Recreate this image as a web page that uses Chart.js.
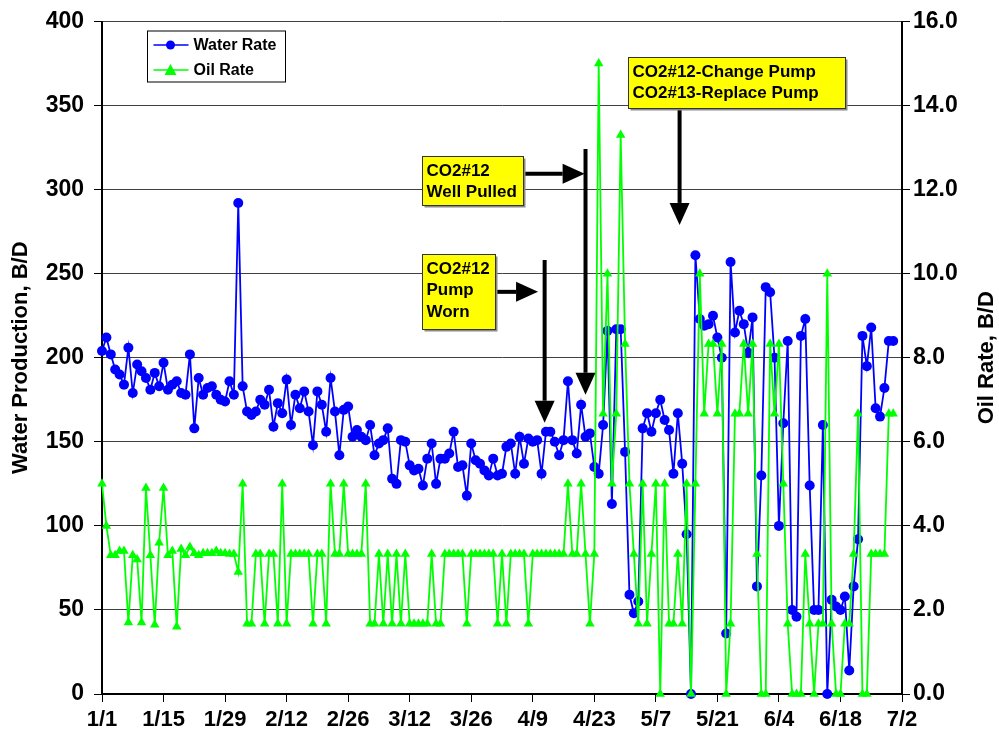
<!DOCTYPE html>
<html>
<head>
<meta charset="UTF-8">
<title>Water and Oil Rate</title>
<script src="https://cdn.jsdelivr.net/npm/chart.js@4.4.1/dist/chart.umd.min.js"></script>
<style>
  html, body { margin: 0; padding: 0; background: #fff; }
  #wrap { width: 999px; height: 740px; }
</style>
</head>
<body>
<div id="wrap"><canvas id="rateChart" width="999" height="740"></canvas></div>
<script>
// x ticks every 14 days starting 1/1 (day 0)
var tickLabels = ['1/1', '1/15', '1/29', '2/12', '2/26', '3/12', '3/26', '4/9', '4/23', '5/7', '5/21', '6/4', '6/18', '7/2'];

// daily values, day 0 = 1/1
var waterRate = [
  204, 212, 202, 193, 190, 184, 206, 179, 196, 192, 188, 181, 191, 183, 197, 181, 184, 186, 179, 178,
  202, 158, 188, 178, 182, 183, 178, 175, 174, 186, 178, 292, 183, 168, 166, 168, 175, 172, 181, 159,
  173, 167, 187, 160, 178, 170, 180, 168, 148, 180, 172, 156, 188, 168, 142, 169, 171, 153, 157, 153,
  151, 160, 142, 149, 151, 158, 128, 125, 151, 150, 136, 133, 134, 124, 140, 149, 125, 140, 140, 143,
  156, 135, 136, 118, 149, 139, 137, 133, 130, 140, 130, 131, 147, 149, 131, 153, 137, 152, 150, 151,
  131, 156, 156, 150, 142, 151, 186, 151, 143, 172, 153, 155, 135, 131, 160, 216, 113, 217, 217, 144,
  59, 48, 55, 158, 167, 156, 167, 175, 163, 157, 131, 167, 137, 95, 0, 261, 223, 219, 220, 225,
  212, 200, 36, 257, 215, 228, 220, 203, 224, 64, 130, 242, 239, 200, 100, 161, 210, 50, 46, 213,
  223, 124, 50, 50, 160, 0, 56, 52, 50, 58, 14, 64, 92, 213, 195, 218, 170, 165, 182, 210,
  210
];

var oilRate = [
  5.0, 4.0, 3.3, 3.3, 3.4, 3.4, 1.7, 3.3, 3.2, 1.7, 4.9, 3.3, 1.65, 3.6, 4.9, 3.3, 3.4, 1.6, 3.45, 3.3,
  3.5, 3.35, 3.3, 3.35, 3.35, 3.35, 3.4, 3.35, 3.35, 3.33, 3.33, 2.9, 5.0, 1.67, 1.67, 3.33, 3.33, 1.67, 3.33, 3.33,
  1.67, 5.0, 1.67, 3.33, 3.33, 3.33, 3.33, 3.33, 1.67, 3.33, 3.33, 1.67, 5.0, 3.33, 3.33, 5.0, 3.33, 3.33, 3.33, 3.33,
  5.0, 1.67, 1.67, 3.33, 1.67, 3.33, 1.67, 3.33, 1.67, 3.33, 1.67, 1.67, 1.67, 1.67, 1.67, 3.33, 1.67, 1.67, 3.33, 3.33,
  3.33, 3.33, 3.33, 1.67, 3.33, 3.33, 3.33, 3.33, 3.33, 3.33, 1.67, 3.33, 1.67, 3.33, 3.33, 3.33, 3.33, 1.67, 3.33, 3.33,
  3.33, 3.33, 3.33, 3.33, 3.33, 3.33, 5.0, 3.33, 3.33, 5.0, 3.33, 1.67, 3.33, 15.0, 6.67, 10.0, 5.0, 6.67, 13.3, 8.33,
  5.0, 3.33, 1.67, 5.0, 1.67, 3.33, 5.0, 0, 5.0, 1.67, 1.67, 3.33, 1.67, 5.0, 0, 5.0, 10.0, 6.67, 8.33, 8.33,
  6.67, 8.33, 0, 1.67, 6.67, 6.67, 8.33, 6.67, 8.33, 3.33, 0, 0, 8.33, 6.67, 8.33, 5.0, 1.67, 0, 0, 0,
  3.33, 1.67, 0, 1.67, 1.67, 10.0, 1.67, 0, 0, 1.67, 1.67, 3.33, 6.67, 0, 0, 3.33, 3.33, 3.33, 3.33, 6.67,
  6.67
];

// call-out boxes and arrows, in axis units (day, water B/D)
var calloutBoxes = [
  { lines: ['CO2#12', 'Well Pulled'], x0: 72.7, x1: 95.7, y0: 320, y1: 291 },
  { lines: ['CO2#12', 'Pump', 'Worn'], x0: 72.7, x1: 89.3, y0: 262, y1: 217 },
  { lines: ['CO2#12-Change Pump', 'CO2#13-Replace Pump'], x0: 119.6, x1: 169, y0: 379, y1: 348.6 }
];
var calloutArrows = [
  { x0: 95.7, y0: 309.4, x1: 109.8, y1: 309.4 },
  { x0: 110.0, y0: 324.2, x1: 110.0, y1: 178 },
  { x0: 89.3, y0: 239.2, x1: 99.2, y1: 239.2 },
  { x0: 100.7, y0: 258.2, x1: 100.7, y1: 161.4 },
  { x0: 131.4, y0: 348.6, x1: 131.4, y1: 279 }
];

var FONT = '"Liberation Sans", Arial, sans-serif';

function toPoints(arr) {
  return arr.map(function (v, i) { return { x: i, y: v }; });
}

var extrasPlugin = {
  id: 'extras',
  afterDatasetsDraw: function (chart) {
    var ctx = chart.ctx;
    var xs = chart.scales.x, ys = chart.scales.y;
    ctx.save();

    // arrows
    calloutArrows.forEach(function (a) {
      var x0 = xs.getPixelForValue(a.x0), y0 = ys.getPixelForValue(a.y0);
      var x1 = xs.getPixelForValue(a.x1), y1 = ys.getPixelForValue(a.y1);
      var ang = Math.atan2(y1 - y0, x1 - x0);
      var headLen = 22, headHalf = 10;
      var bx = x1 - headLen * Math.cos(ang), by = y1 - headLen * Math.sin(ang);
      ctx.strokeStyle = '#000';
      ctx.lineWidth = 4;
      ctx.beginPath();
      ctx.moveTo(x0, y0);
      ctx.lineTo(bx, by);
      ctx.stroke();
      ctx.fillStyle = '#000';
      ctx.beginPath();
      ctx.moveTo(x1, y1);
      ctx.lineTo(bx + headHalf * Math.sin(ang), by - headHalf * Math.cos(ang));
      ctx.lineTo(bx - headHalf * Math.sin(ang), by + headHalf * Math.cos(ang));
      ctx.closePath();
      ctx.fill();
    });

    // boxes
    calloutBoxes.forEach(function (b) {
      var l = Math.round(xs.getPixelForValue(b.x0)) + 0.5, r = Math.round(xs.getPixelForValue(b.x1)) + 0.5;
      var t = Math.round(ys.getPixelForValue(b.y0)) + 0.5, btm = Math.round(ys.getPixelForValue(b.y1)) + 0.5;
      ctx.fillStyle = '#8a8a8a';
      ctx.fillRect(l + 2, t + 2, r - l, btm - t);
      ctx.fillStyle = '#ffff00';
      ctx.fillRect(l, t, r - l, btm - t);
      ctx.strokeStyle = '#333';
      ctx.lineWidth = 1;
      ctx.strokeRect(l, t, r - l, btm - t);
      ctx.fillStyle = '#000';
      ctx.font = 'bold 17px ' + FONT;
      ctx.textAlign = 'left';
      ctx.textBaseline = 'alphabetic';
      b.lines.forEach(function (txt, i) {
        ctx.fillText(txt, l + 4, t + 19 + i * 21.5);
      });
    });

    // legend
    var ca = chart.chartArea;
    var lx = ca.left + 45.5, ly = ca.top + 9.5, lw = 138, lh = 51;
    ctx.fillStyle = '#fff';
    ctx.fillRect(lx, ly, lw, lh);
    ctx.strokeStyle = '#000';
    ctx.lineWidth = 1;
    ctx.strokeRect(lx, ly, lw, lh);
    var items = [
      { text: 'Water Rate', color: '#0000ff', style: 'circle' },
      { text: 'Oil Rate', color: '#00ff00', style: 'triangle' }
    ];
    items.forEach(function (it, i) {
      var cy = ly + 14 + i * 25;
      ctx.strokeStyle = it.color;
      ctx.lineWidth = 1.5;
      ctx.beginPath();
      ctx.moveTo(lx + 6, cy);
      ctx.lineTo(lx + 41, cy);
      ctx.stroke();
      ctx.fillStyle = it.color;
      ctx.beginPath();
      if (it.style === 'circle') {
        ctx.arc(lx + 23, cy, 4.5, 0, Math.PI * 2);
      } else {
        ctx.moveTo(lx + 23, cy - 6);
        ctx.lineTo(lx + 29, cy + 5);
        ctx.lineTo(lx + 17, cy + 5);
        ctx.closePath();
      }
      ctx.fill();
      ctx.fillStyle = '#000';
      ctx.font = 'bold 16px ' + FONT;
      ctx.textBaseline = 'middle';
      ctx.fillText(it.text, lx + 46, cy + 1);
    });

    // right axis title (reads bottom to top)
    ctx.save();
    ctx.translate(987, (ca.top + ca.bottom) / 2);
    ctx.rotate(-Math.PI / 2);
    ctx.font = 'bold 22px ' + FONT;
    ctx.textAlign = 'center';
    ctx.textBaseline = 'middle';
    ctx.fillStyle = '#000';
    ctx.fillText('Oil Rate, B/D', 0, 0);
    ctx.restore();

    ctx.restore();
  }
};

var ctx = document.getElementById('rateChart');
var rateChart = new Chart(ctx, {
  type: 'line',
  data: {
    datasets: [
      {
        label: 'Water Rate',
        data: toPoints(waterRate),
        yAxisID: 'y',
        borderColor: '#0000ff',
        backgroundColor: '#0000ff',
        borderWidth: 1.8,
        pointStyle: 'circle',
        pointRadius: 5,
        pointBorderWidth: 0,
        tension: 0,
        clip: false,
        order: 2
      },
      {
        label: 'Oil Rate',
        data: toPoints(oilRate),
        yAxisID: 'y1',
        borderColor: '#00ff00',
        backgroundColor: '#00ff00',
        borderWidth: 1.8,
        pointStyle: 'triangle',
        pointRadius: 5.5,
        pointBorderWidth: 0,
        tension: 0,
        clip: false,
        order: 1
      }
    ]
  },
  options: {
    responsive: false,
    animation: false,
    events: [],
    layout: { padding: { top: 19, left: 0, right: 0, bottom: 0 } },
    plugins: {
      legend: { display: false },
      tooltip: { enabled: false }
    },
    scales: {
      x: {
        type: 'linear',
        min: 0,
        max: 182,
        afterFit: function (s) { s.height = 46; },
        afterBuildTicks: function (s) {
          s.ticks = tickLabels.map(function (t, i) { return { value: i * 14 }; });
        },
        ticks: {
          autoSkip: false,
          maxRotation: 0,
          padding: 5,
          color: '#000',
          font: { family: FONT, size: 22, weight: 'bold' },
          callback: function (v) { return tickLabels[Math.round(v / 14)]; }
        },
        grid: { drawOnChartArea: false, drawTicks: true, tickLength: 8, tickColor: '#000' },
        border: { color: '#000', width: 2 }
      },
      y: {
        position: 'left',
        min: 0,
        max: 400,
        afterFit: function (s) { s.width = 102; },
        ticks: {
          stepSize: 50,
          padding: 10,
          color: '#000',
          font: { family: FONT, size: 23, weight: 'bold', lineHeight: 1 }
        },
        grid: { color: '#404040', lineWidth: 1, drawTicks: true, tickLength: 8, tickColor: '#000' },
        border: { color: '#000', width: 2 },
        title: {
          display: true,
          text: 'Water Production, B/D',
          color: '#000',
          padding: { top: 8, bottom: 0 },
          font: { family: FONT, size: 22, weight: 'bold' }
        }
      },
      y1: {
        position: 'right',
        min: 0,
        max: 16,
        afterFit: function (s) { s.width = 97; },
        ticks: {
          stepSize: 2,
          padding: 3,
          color: '#000',
          font: { family: FONT, size: 23, weight: 'bold', lineHeight: 1 },
          callback: function (v) { return v.toFixed(1); }
        },
        grid: { drawOnChartArea: false, drawTicks: true, tickLength: 8, tickColor: '#000' },
        border: { color: '#000', width: 2 }
      }
    }
  },
  plugins: [extrasPlugin]
});
</script>
</body>
</html>
